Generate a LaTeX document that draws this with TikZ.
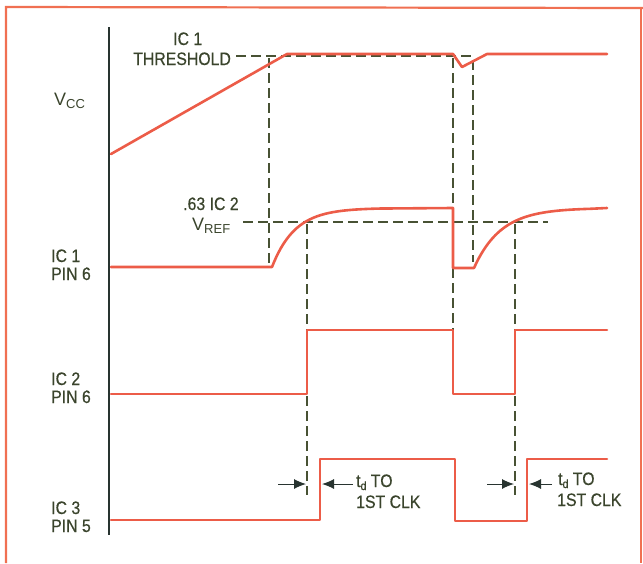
\documentclass[tikz,border=0pt]{standalone}
\usepackage{fontspec}
\setmainfont{Liberation Sans}
\newfontfamily\lblfont{Liberation Sans}[FakeStretch=0.88,FakeBold=0.5]
\usetikzlibrary{arrows.meta}
\definecolor{trace}{RGB}{236,92,72}
\definecolor{framec}{RGB}{240,112,82}
\definecolor{guide}{RGB}{72,82,52}
\definecolor{ink}{RGB}{58,68,44}
\definecolor{axisc}{RGB}{40,52,48}
\begin{document}
\begin{tikzpicture}[x=1pt,y=-1pt,
  wave/.style={draw=trace,line width=2.6pt,line join=round,line cap=round},
  guideline/.style={draw=guide,line width=1.2pt,dash pattern=on 10pt off 5pt},
  lbl/.style={text=ink,inner sep=0pt,anchor=base west,font=\lblfont\fontsize{18}{20}\selectfont},
  vlbl/.style={text=ink,inner sep=0pt,anchor=base west,font=\fontsize{18}{20}\selectfont},
  tdarrow/.style={draw=axisc,line width=1pt,-{Latex[length=12pt,width=10pt]}}
]
\useasboundingbox (0,0) rectangle (643,563);
% frame
\draw[framec,line width=2.2pt] (6,563) -- (6,7) -- (643,8);
\draw[framec,line width=2.2pt] (641,8) -- (641,563);

% guide lines
\draw[guideline] (236,56) -- (472,56);
\draw[guideline] (243,222) -- (548,222);
\draw[guideline] (269,58) -- (269,266);
\draw[guideline] (453,58) -- (453,330);
\draw[guideline] (473,60) -- (473,262);
\draw[guideline] (307,224) -- (307,330);
\draw[guideline] (307,396) -- (307,495);
\draw[guideline] (515,224) -- (515,330);
\draw[guideline] (515,396) -- (515,495);

% waveforms
\draw[wave] (111,154) -- (287,54) -- (453,54) -- (462,67) -- (487,54) -- (607,54);
\draw[wave] (111,267) -- (272,267)
  -- plot[domain=272:380,samples=50] (\x,{267-59*(1-exp(-(\x-272)/23))})
  -- (453,208) -- (453,268) -- (474,268)
  -- plot[domain=474:590,samples=50] (\x,{268-60*(1-exp(-(\x-474)/27))})
  -- (607,208);
\draw[wave] (111,394) -- (307,394) -- (307,330) -- (453,330) -- (453,394)
  -- (515,394) -- (515,330) -- (607,330);
\draw[wave] (111,520) -- (320,520) -- (320,459) -- (455,459) -- (455,521)
  -- (527,521) -- (527,459) -- (607,459);

% axis
\draw[axisc,line width=1.6pt] (109,27) -- (109,535);

% row labels
\node[vlbl] (vcc) at (54,105) {V\raisebox{-3pt}{\fontsize{13}{14}\selectfont CC}};
\node[lbl] (r1a) at (51,262) {IC 1};
\node[lbl] (r1b) at (51,280) {PIN 6};
\node[lbl] (r2a) at (51,385) {IC 2};
\node[lbl] (r2b) at (51,403) {PIN 6};
\node[lbl] (r3a) at (51,514) {IC 3};
\node[lbl] (r3b) at (51,532) {PIN 5};

% threshold labels
\node[lbl] (tha) at (173,45) {IC 1};
\node[lbl] (thb) at (133,65) {THRESHOLD};
\node[lbl] (vra) at (183,210) {.63 IC 2};
\node[vlbl] (vrb) at (192,230) {V\raisebox{-3pt}{\fontsize{13}{14}\selectfont REF}};

% td arrows
\coordinate (a1s) at (278,484);
\coordinate (a1e) at (306,484);
\coordinate (a2s) at (353,484);
\coordinate (a2e) at (322,484);
\coordinate (a3s) at (487,484);
\coordinate (a3e) at (514,484);
\coordinate (a4s) at (552,484);
\coordinate (a4e) at (529,484);
\draw[tdarrow] (a1s) -- (a1e);
\draw[tdarrow] (a2s) -- (a2e);
\draw[tdarrow] (a3s) -- (a3e);
\draw[tdarrow] (a4s) -- (a4e);

\node[lbl] (td1a) at (356,487) {t\raisebox{-3pt}{\fontsize{12}{12}\selectfont d} TO};
\node[lbl] (td1b) at (356,508) {1ST CLK};
\node[lbl] (td2a) at (558,485) {t\raisebox{-3pt}{\fontsize{12}{12}\selectfont d} TO};
\node[lbl] (td2b) at (557,506) {1ST CLK};
\end{tikzpicture}
\end{document}
